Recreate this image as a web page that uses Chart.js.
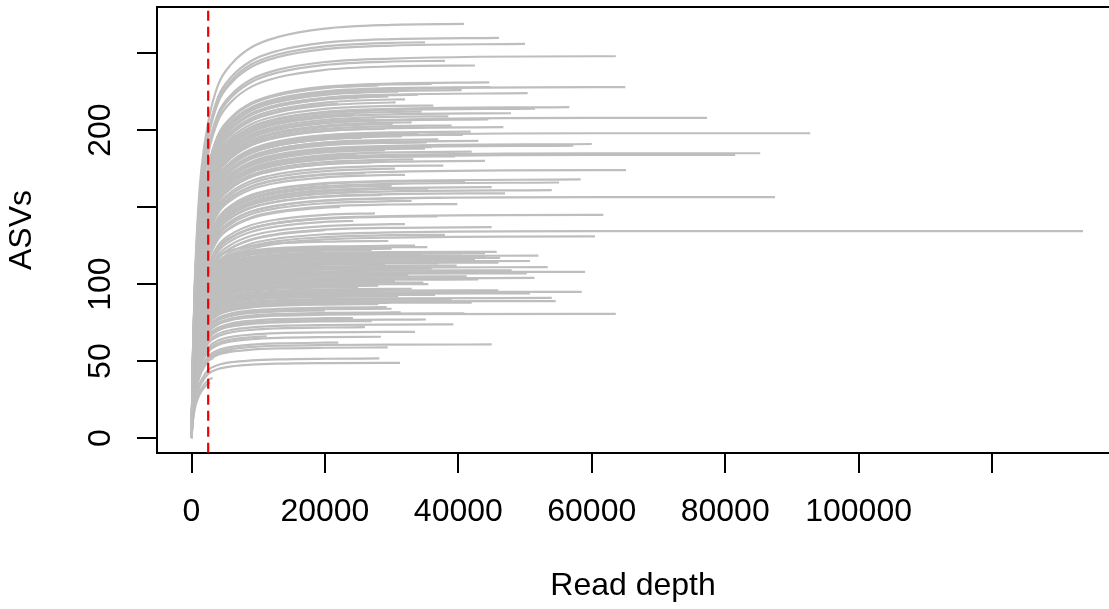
<!DOCTYPE html>
<html><head><meta charset="utf-8">
<script src="https://cdn.jsdelivr.net/npm/chart.js@4.4.1/dist/chart.umd.min.js"></script>
<style>html,body{margin:0;padding:0;background:#fff;overflow:hidden}#c{display:block}</style>
</head><body>
<div style="width:1109px;height:609px"><canvas id="c" width="1109" height="609"></canvas></div>
<script>
// Final read depth of each sample (end of its rarefaction curve)
const sampleDepth = [
  40850,46100,35000,50000,63600,38000,42500,
  36000,44640,28000,44790,65030,40500,31000,50400,33950,25000,32000,30600,22000,36250,56640,51500,27000,47900,
  24500,38500,77280,44500,27500,33000,30150,46750,29000,41850,34000,92750,40650,31500,25500,37000,26500,35260,60000,57230,
  36000,35000,29000,42000,85250,81500,24760,39500,33250,44000,27000,37750,30500,65130,26000,32000,
  58340,41000,55090,30000,45000,35500,54000,26000,47000,28500,87470,37500,33000,39850,22260,
  27500,61730,36850,18000,24250,32000,45000,20000,133640,38000,60490,29500,
  33500,35350,30000,27000,45750,44000,40500,31500,44250,46250,38000,25000,50740,46000,22000,29000,39750,53400,24000,36000,59000,17760,50250,32500,41250,51400,26500,30500,34750,
  28000,25000,33000,46000,58500,27000,50740,36500,31000,54000,39000,54600,42000,28000,29260,
  30000,20000,31360,40900,63600,24200,35150,27000,11000,39250,26000,33500,11270,28400,22000,45000,29400,6170,3270,28150,31250,3170,2770,
  34500,42500,37000,28500,48000,31000,43000,27500,52000,35500,
  29500,34500,39000,28500,43000,26000
];
// Observed ASVs of each sample at its final depth
const sampleASVs = [
  269,260,257,256,248,245,242,
  230,231,229,228,228,226,225,224,223,221,220,218,217,216,215,214,213,211,
  210,209,208,207,207,205,204,202,201,199,198,198,197,196,195,194,193,192,191,190,
  189,188,187,186,185,184,184,183,181,180,179,177,175,174,172,171,
  168,167,166,164,163,162,161,160,159,158,156.5,156,154,152,150,
  146,145,144,142,141,139,137,135,134.4,132,131,128,
  125,124,123,122,121,120,120,119,118,117,117,116,115,114,114,113,112,111,111,110,108,108,107,106,105,104,103,102,101,
  99,98,97,96,95,95,94,93,92,91,90,89,88,87,85,
  84,83,81.6,81,80.7,78,77,76,75.5,73.8,72,69,66,65.8,62,60.8,58.9,57,52,51.7,48.9,39,36,
  119.5,116,113.5,110.5,109,106.5,103,124,118.5,100,
  222,212,203,197,193,226
];
// Shared saturation profile (share of final ASVs reached at each depth)
const profileDepth = [0, 200, 500, 1000, 1500, 2500, 4000, 6000, 9000, 13000, 20000, 30000, 60000];
const profileRich  = [0, 0.20, 0.38, 0.55, 0.65, 0.76, 0.85, 0.90, 0.94, 0.965, 0.985, 0.994, 1];
const profilePoor  = [0, 0.26, 0.46, 0.63, 0.73, 0.85, 0.915, 0.95, 0.972, 0.985, 0.993, 0.997, 1];
const richThreshold = 130;
const cutoffDepth = 2500;
const xTicks = [0, 20000, 40000, 60000, 80000, 100000, 120000];
const xTickLabels = ['0', '20000', '40000', '60000', '80000', '100000', ''];
const yTicks = [0, 50, 100, 150, 200, 250];
const yTickLabels = ['0', '50', '100', '', '200', ''];

function fracAt(prof, d) {
  for (let i = 1; i < profileDepth.length; i++) {
    if (d <= profileDepth[i]) {
      const t = (d - profileDepth[i-1]) / (profileDepth[i] - profileDepth[i-1]);
      return prof[i-1] + t * (prof[i] - prof[i-1]);
    }
  }
  return prof[prof.length - 1];
}

const datasets = [{
  data: [{x: cutoffDepth, y: -20}, {x: cutoffDepth, y: 300}],
  borderColor: '#f00000', borderWidth: 2.2, borderDash: [10, 6], order: 0, tension: 0
}];
sampleDepth.forEach((end, k) => {
  const S = sampleASVs[k];
  const prof = S >= richThreshold ? profileRich : profilePoor;
  const fEnd = fracAt(prof, end);
  const pts = [];
  for (let i = 0; i < profileDepth.length; i++) {
    if (profileDepth[i] < end) pts.push({x: profileDepth[i], y: S * prof[i] / fEnd});
  }
  pts.push({x: end, y: S});
  datasets.push({data: pts, borderColor: '#bebebe', borderWidth: 2.2, order: 1, cubicInterpolationMode: 'monotone'});
});

const font = {family: "'Liberation Sans', Arial, sans-serif", size: 32, lineHeight: 1.2};
const topBorder = {
  id: 'topBorder',
  afterDraw(chart) {
    const a = chart.chartArea, c = chart.ctx;
    c.save(); c.strokeStyle = '#000'; c.lineWidth = 2;
    c.beginPath(); c.moveTo(a.left - 1, a.top); c.lineTo(a.right + 2, a.top); c.stroke();
    c.restore();
  }
};

new Chart(document.getElementById('c'), {
  type: 'line',
  data: {datasets},
  options: {
    responsive: false, animation: false, devicePixelRatio: 1,
    layout: {padding: {top: 7, left: 0, right: 0, bottom: 0}},
    plugins: {legend: {display: false}, tooltip: {enabled: false}},
    elements: {point: {radius: 0}},
    scales: {
      x: {
        type: 'linear', min: -5172, max: 137535,
        afterBuildTicks(s) { s.ticks = xTicks.map(v => ({value: v})); },
        afterFit(s) { s.height = 156; s.paddingLeft = 0; s.paddingRight = 0; },
        ticks: {callback: (v, i) => xTickLabels[i], font, color: '#000', padding: 20, maxRotation: 0, autoSkip: false},
        grid: {drawOnChartArea: false, drawTicks: true, tickLength: 20, color: '#000', lineWidth: 2},
        border: {display: true, color: '#000', width: 2},
        title: {display: true, text: 'Read depth', font, color: '#000', padding: {top: 0, bottom: 4}}
      },
      y: {
        type: 'linear', min: -9.7, max: 280,
        afterBuildTicks(s) { s.ticks = yTicks.map(v => ({value: v})); },
        afterFit(s) { s.width = 157; s.paddingTop = 0; s.paddingBottom = 0; },
        ticks: {callback: (v, i) => yTickLabels[i], font, color: '#000', padding: 9, minRotation: 90, maxRotation: 90, crossAlign: 'center', autoSkip: false},
        grid: {drawOnChartArea: false, drawTicks: true, tickLength: 20, color: '#000', lineWidth: 2},
        border: {display: true, color: '#000', width: 2},
        title: {display: true, text: 'ASVs', font, color: '#000', padding: {top: 3, bottom: 0}}
      }
    }
  },
  plugins: [topBorder]
});
</script>
</body></html>
